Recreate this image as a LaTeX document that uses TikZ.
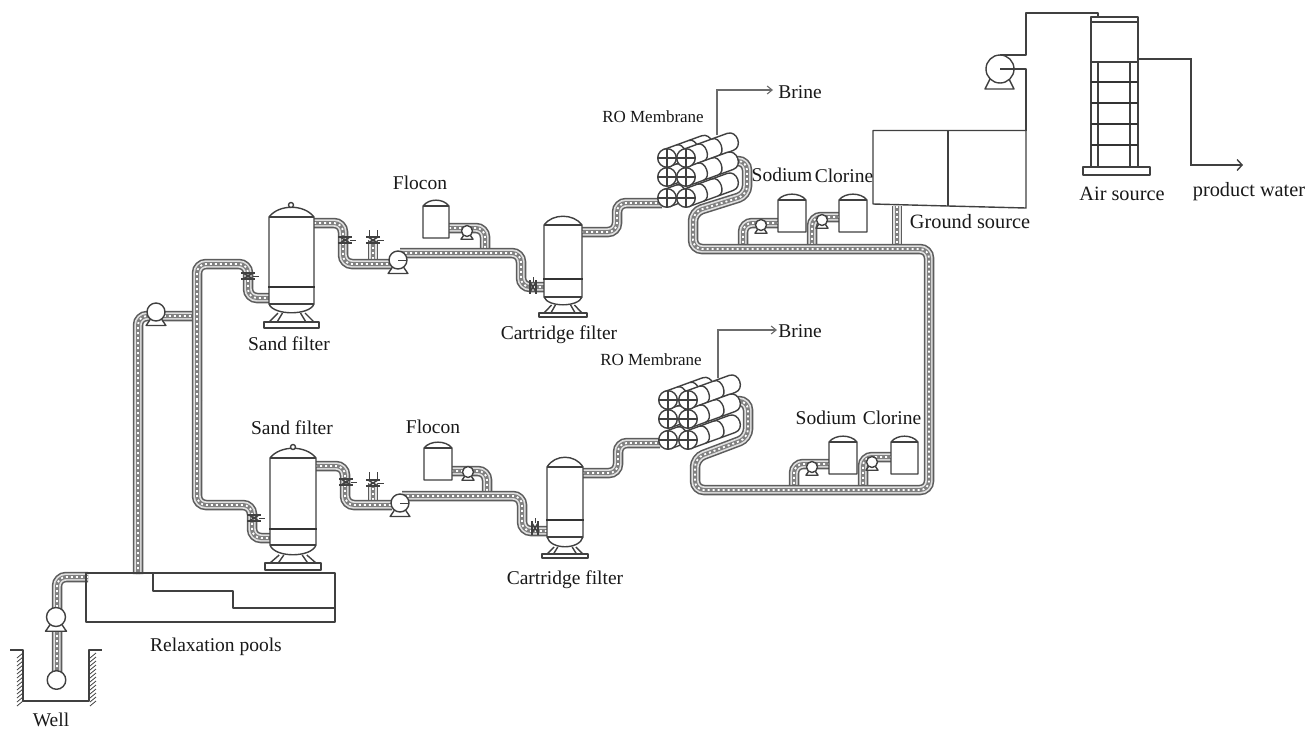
\documentclass[tikz,border=0pt]{standalone}
\usepackage{fontspec}
\setmainfont{Liberation Serif}
\usetikzlibrary{arrows.meta}
\definecolor{ink}{gray}{0.25}
\definecolor{pipeedge}{gray}{0.36}
\definecolor{pipecore}{gray}{0.5}
\tikzset{
  x=1pt,y=-1pt,
  ink/.style={draw=ink,line width=1.4pt,line join=round},
  thin ink/.style={draw=ink,line width=0.9pt},
  thick ink/.style={draw=ink!80!black,line width=2.3pt},
  shell/.style={ink,fill=white},
  label/.style={font=\fontsize{19.5}{19.5}\selectfont,text=black!90,inner sep=0pt},
  wide label/.style={font=\fontsize{20.3}{20.3}\selectfont,text=black!90,inner sep=0pt},
  small label/.style={font=\fontsize{17}{17}\selectfont,text=black!90,inner sep=0pt},
  flow arrow/.style={draw=gray!85!black,line width=1.1pt,-{Straight Barb[length=5pt,width=8pt]}},
  out arrow/.style={draw=ink,line width=1.4pt,-{Straight Barb[length=5pt,width=11pt]}},
}
\newcommand{\pipe}[1]{%
  \draw[draw=pipeedge,line width=10.5pt,rounded corners=9pt] #1;
  \draw[draw=white!88!black,line width=7.4pt,rounded corners=9pt] #1;
  \draw[draw=pipecore,line width=4pt,rounded corners=9pt] #1;
  \draw[draw=white,line width=1.8pt,dash pattern=on 2pt off 3pt,rounded corners=9pt] #1;
}
% pump: x y radius
\newcommand{\pump}[3]{%
  \draw[shell] ({#1-0.55*#3},{#2+0.7*#3}) -- ({#1-1.1*#3},{#2+1.5*#3}) -- ({#1+1.1*#3},{#2+1.5*#3}) -- ({#1+0.55*#3},{#2+0.7*#3}) -- cycle;
  \draw[shell] (#1,#2) circle[radius=#3];
}
% valve on a vertical pipe / on a horizontal pipe
\newcommand{\valveV}[2]{%
  \draw[thin ink,line width=1.4pt] ({#1-7},{#2-3}) -- ({#1+7},{#2-3}) ({#1-7},{#2+3}) -- ({#1+7},{#2+3});
  \draw[thin ink,line width=1.4pt] ({#1-5},{#2-3}) -- ({#1+5},{#2+3}) ({#1+5},{#2-3}) -- ({#1-5},{#2+3});
  \draw[thin ink] ({#1+5},#2) -- ({#1+11},#2);
}
\newcommand{\valveH}[2]{%
  \draw[thin ink,line width=1.4pt] ({#1-3},{#2-7}) -- ({#1-3},{#2+7}) ({#1+3},{#2-7}) -- ({#1+3},{#2+7});
  \draw[thin ink,line width=1.4pt] ({#1-3},{#2-5}) -- ({#1+3},{#2+5}) ({#1-3},{#2+5}) -- ({#1+3},{#2-5});
  \draw[thin ink] (#1,{#2-5}) -- (#1,{#2-10});
}
% vessel: xl xr ytop ydome yband ybot ydomebot ybaseT ybaseB
\newcommand{\vessel}[9]{%
  \pgfmathsetmacro{\xw}{#2-#1}
  \pgfmathsetmacro{\xm}{(#1+#2)/2}
  \draw[ink] ({\xm-0.3*\xw},#7) -- ({\xm-0.5*\xw},#8) ({\xm-0.2*\xw},#7) -- ({\xm-0.32*\xw},#8);
  \draw[ink] ({\xm+0.3*\xw},#7) -- ({\xm+0.5*\xw},#8) ({\xm+0.2*\xw},#7) -- ({\xm+0.32*\xw},#8);
  \draw[shell] ({#1-5},#8) rectangle ({#2+5},#9);
  \draw[shell] (#1,#3) .. controls ({#1+0.22*\xw},{#3-1.3*(#3-#4)}) and ({#2-0.22*\xw},{#3-1.3*(#3-#4)}) .. (#2,#3)
     -- (#2,#6) .. controls ({#2-0.1*\xw},{#6+1.3*(#7-#6)}) and ({#1+0.1*\xw},{#6+1.3*(#7-#6)}) .. (#1,#6) -- cycle;
  \draw[ink] (#1,#3) -- (#2,#3);
  \draw[ink] (#1,#6) -- (#2,#6);
  \draw[thick ink] ({#1-1},#5) -- ({#2+1},#5);
}
% small dosing tank: xl xr ytop ydome ybot
\newcommand{\tank}[5]{%
  \draw[shell] (#1,#3) .. controls ({#1+6},{#3-1.3*(#3-#4)}) and ({#2-6},{#3-1.3*(#3-#4)}) .. (#2,#3) -- (#2,#5) -- (#1,#5) -- cycle;
  \draw[ink] (#1,#3) -- (#2,#3);
}
% RO tube: x y length
\newcommand{\rotube}[3]{%
  \begin{scope}[shift={(#1,#2)}]
    \draw[shell] (3.1,8.5) -- ({#3*0.94+3.1},{-#3*0.342+8.5})
       .. controls ({#3*0.94+3.1+10},{-#3*0.342+8.5-3.6}) and ({#3*0.94-3.1+10},{-#3*0.342-8.5-3.6}) ..
       ({#3*0.94-3.1},{-#3*0.342-8.5}) -- (-3.1,-8.5) -- cycle;
    \foreach \f in {0.33,0.66}{
      \pgfmathsetmacro{\tt}{\f*#3}
      \draw[ink] ({\tt*0.94+3.1},{-\tt*0.342+8.5})
       .. controls ({\tt*0.94+3.1+8},{-\tt*0.342+8.5-2.9}) and ({\tt*0.94-3.1+8},{-\tt*0.342-8.5-2.9}) ..
       ({\tt*0.94-3.1},{-\tt*0.342-8.5});
    }
  \end{scope}
}
\newcommand{\rocap}[2]{%
  \draw[shell] (#1,#2) circle[radius=9.3];
  \draw[ink,line width=1.1pt] ({#1-9.3},#2) -- ({#1+9.3},#2) (#1,{#2-9.3}) -- (#1,{#2+9.3});
}
\newcommand{\rostack}[7]{%
  % #1 back x, #2 front x, #3 #4 #5 row y, #6 back len, #7 front len
  \rotube{#1}{#3}{#6}\rotube{#1}{#4}{#6}\rotube{#1}{#5}{#6}
  \rotube{#2}{#3}{#7}\rotube{#2}{#4}{#7}\rotube{#2}{#5}{#7}
  \rocap{#1}{#3}\rocap{#1}{#4}\rocap{#1}{#5}
  \rocap{#2}{#3}\rocap{#2}{#4}\rocap{#2}{#5}
}
\begin{document}
\begin{tikzpicture}
\useasboundingbox (0,0) rectangle (1315,729);
\fill[white] (0,0) rectangle (1315,729);

% ---------- pipes ----------
\pipe{(57,672) -- (57,577) -- (88,577)}
\pipe{(138,574) -- (138,316) -- (195,316)}
\pipe{(197,400) -- (197,264) -- (248,264) -- (248,298) -- (270,298)}
\pipe{(197,400) -- (197,505) -- (252,505) -- (252,538) -- (271,538)}
% upper train
\pipe{(373,264) -- (373,240)}
\pipe{(314,223) -- (343,223) -- (343,264) -- (392,264)}
\pipe{(449,228) -- (485,228) -- (485,253)}
\pipe{(400,253) -- (521,253) -- (521,287) -- (545,287)}
\pipe{(581,232) -- (617,232) -- (617,203) -- (662,203)}
% lower train
\pipe{(373,505) -- (373,483)}
\pipe{(315,466) -- (345,466) -- (345,505) -- (392,505)}
\pipe{(451,471) -- (487,471) -- (487,496)}
\pipe{(402,496) -- (522,496) -- (522,531) -- (548,531)}
\pipe{(582,473) -- (618,473) -- (618,443) -- (660,443)}
% brine side / collecting main
\pipe{(897,206) -- (897,249)}
\pipe{(779,223) -- (743,223) -- (743,249)}
\pipe{(840,217) -- (812,217) -- (812,249)}
\pipe{(830,464) -- (794,464) -- (794,490)}
\pipe{(892,457) -- (863,457) -- (863,490)}
\pipe{(735,161) -- (747,161) -- (747,195) -- (693,212) -- (693,249) -- (929,249) -- (929,490) -- (695,490) -- (695,458) -- (748,438) -- (748,401) -- (735,401)}

% ---------- well ----------
\draw[ink] (10,650) -- (23,650) -- (23,701) -- (89,701) -- (89,650) -- (102,650);
\foreach \yy in {653,657,...,701}{
  \draw[thin ink,line width=0.8pt] (23,\yy) -- (17,{\yy+5});
  \draw[thin ink,line width=0.8pt] (96,\yy) -- (90,{\yy+5});
}
\draw[shell] (56.5,680) circle[radius=9.3];
\pump{56}{617}{9.5}

% ---------- relaxation pools ----------
\draw[ink] (86,573) rectangle (335,622);
\draw[ink] (153,573) -- (153,591) -- (233,591) -- (233,608) -- (335,608);

% ---------- pumps ----------
\pump{156}{312}{9}
\pump{398}{260}{9}
\draw[thin ink] (398,260) -- (407,260);
\pump{467}{231}{5.5}
\pump{400}{503}{9}
\draw[thin ink] (400,503) -- (409,503);
\pump{468}{472}{5.5}
\pump{761}{225}{5.5}
\pump{822}{220}{5.5}
\pump{812}{467}{5.5}
\pump{872}{462}{5.5}

% ---------- valves ----------
\valveV{248}{276}
\valveV{345}{240}
\valveV{373}{240}
\draw[thin ink] (369,236) -- (369,230) (377,236) -- (377,230);
\valveV{254}{518}
\valveV{346}{482}
\valveV{373}{483}
\draw[thin ink] (369,479) -- (369,472) (377,479) -- (377,472);
\valveH{533}{287}
\valveH{535}{528}

% ---------- vessels ----------
\vessel{269}{314}{217}{207}{287}{304}{313}{322}{328}
\draw[shell] (291,205) circle[radius=2.5];
\vessel{270}{316}{458}{448}{529}{545}{555}{563}{570}
\draw[shell] (293,447) circle[radius=2.5];
\vessel{544}{582}{225}{216}{279}{297}{305}{313}{317}
\vessel{547}{583}{467}{457}{520}{537}{547}{554}{558}

% ---------- dosing tanks ----------
\tank{423}{449}{206}{200}{238}
\tank{424}{452}{448}{442}{480}
\tank{778}{806}{200}{194}{232}
\tank{839}{867}{200}{194}{232}
\tank{829}{857}{442}{436}{474}
\tank{891}{918}{442}{436}{474}

% ---------- RO stacks ----------
\rostack{667}{686}{158}{177}{198}{40}{47}
\rostack{668}{688}{400}{419}{440}{40}{47}

% ---------- brine outlets ----------
\coordinate (ro1) at (717,135);
\coordinate (b1) at (773,90);
\coordinate (ro2) at (718,378);
\coordinate (b2) at (777,330);
\draw[flow arrow] (ro1) |- (b1);
\draw[flow arrow] (ro2) |- (b2);

% ---------- ground source tanks ----------
\draw[ink] (873,130.5) -- (1026,130.5) -- (1026,208) -- (948,206) -- (873,204) -- cycle;
\draw[ink] (948,130.5) -- (948,206);

% ---------- air tower ----------
\coordinate (pumpout) at (1000,55);
\coordinate (towertop) at (1098,17);
\coordinate (towerout) at (1138,59);
\coordinate (product) at (1243,165);
\draw[ink] (1026,130.5) -- (1026,69) -- (1000,69);
\draw[ink] (pumpout) -- (1026,55) -- (1026,13) -- (1098,13) -- (towertop);
\draw[shell] (990,79) -- (985,89) -- (1014,89) -- (1009,79) -- cycle;
\draw[shell] (1000,69) circle[radius=14];
\draw[ink] (1000,69) -- (1014,69);
\draw[ink] (1091,17) rectangle (1138,167);
\draw[ink] (1091,22) -- (1138,22);
\draw[ink] (1091,62) -- (1138,62);
\draw[ink] (1098,62) -- (1098,167) (1130,62) -- (1130,167);
\foreach \yy in {82,103,124,145}{\draw[thick ink] (1091,\yy) -- (1138,\yy);}
\draw[shell] (1083,167) rectangle (1150,175);
\draw[out arrow] (towerout) -- (1191,59) -- (1191,165) -- (product);

% ---------- labels ----------
\node[label] (lwell) at (51,720) {Well};
\node[label] (lpool) at (216,647) {Relaxation pools};
\node[label] (ls1) at (289,344) {Sand filter};
\node[label] (ls2) at (292,428) {Sand filter};
\node[label] (lf1) at (420,183) {Flocon};
\node[label] (lf2) at (433,427) {Flocon};
\node[label] (lc1) at (559,335) {Cartridge filter};
\node[label] (lc2) at (565,580) {Cartridge filter};
\node[small label] (lr1) at (653,117) {RO Membrane};
\node[small label] (lr2) at (651,360) {RO Membrane};
\node[label] (lb1) at (800,92) {Brine};
\node[label] (lb2) at (800,331) {Brine};
\node[label] (lna1) at (782,175) {Sodium};
\node[label] (lcl1) at (844,176) {Clorine};
\node[label] (lna2) at (826,418) {Sodium};
\node[label] (lcl2) at (892,418) {Clorine};
\node[wide label] (lg) at (970,222) {Ground source};
\node[wide label] (la) at (1122,194) {Air source};
\node[wide label] (lp) at (1249,192) {product water};
\end{tikzpicture}
\end{document}
